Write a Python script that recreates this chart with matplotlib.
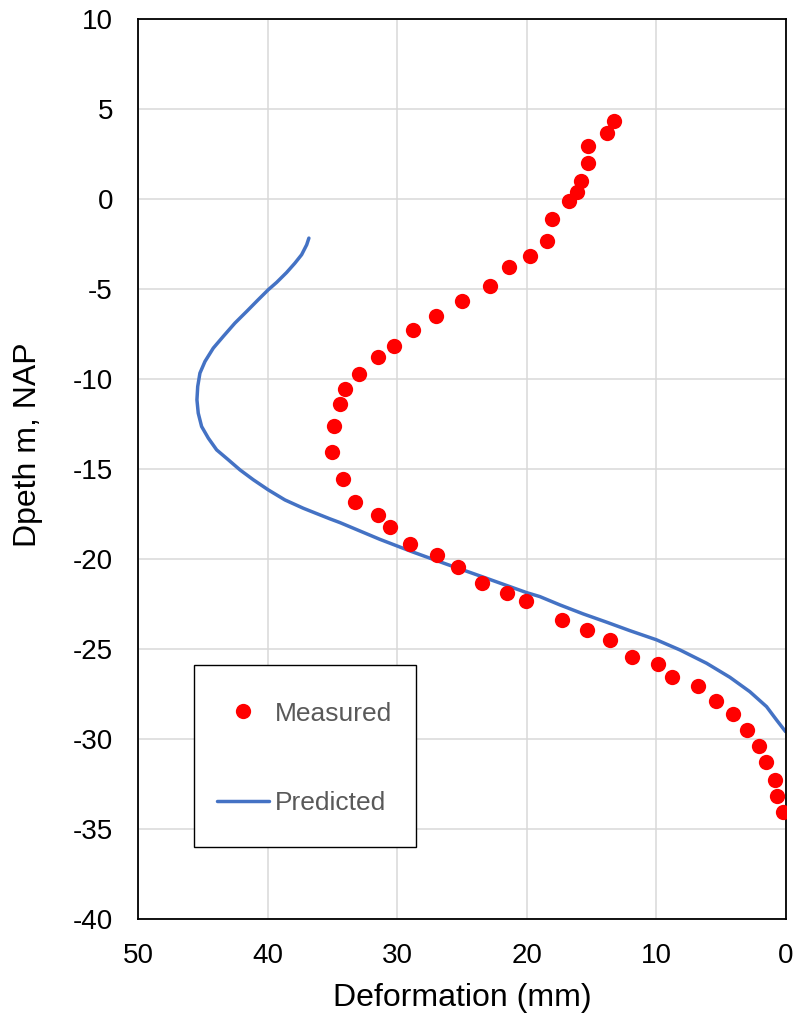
import matplotlib
matplotlib.use("Agg")
import matplotlib.pyplot as plt
from matplotlib.patches import Rectangle

plt.rcParams["font.family"] = ["Liberation Sans", "DejaVu Sans"]

# Measured inclinometer profile: deformation (mm) vs depth (m NAP)
measured_deformation = [
    13.25, 13.83, 15.25, 15.25, 15.8, 16.15, 16.7, 18.03, 18.46, 19.75,
    21.4, 22.84, 25.0, 26.98, 28.78, 30.27, 31.46, 32.92, 34.03, 34.41,
    34.9, 35.03, 34.18, 33.26, 31.46, 30.56, 28.99, 26.93, 25.31, 23.48,
    21.53, 20.06, 17.31, 15.35, 13.6, 11.88, 9.9, 8.82, 6.81, 5.38,
    4.11, 3.01, 2.11, 1.57, 0.85, 0.67, 0.23,
]
measured_depth = [
    4.31, 3.67, 2.96, 2.02, 1.02, 0.41, -0.11, -1.09, -2.33, -3.19,
    -3.75, -4.81, -5.68, -6.52, -7.26, -8.17, -8.78, -9.74, -10.56, -11.36,
    -12.61, -14.06, -15.54, -16.8, -17.54, -18.2, -19.17, -19.78, -20.44, -21.3,
    -21.89, -22.33, -23.37, -23.93, -24.5, -25.41, -25.82, -26.56, -27.02, -27.86,
    -28.59, -29.48, -30.35, -31.26, -32.28, -33.17, -34.04,
]

# Predicted profile
predicted_deformation = [
    36.81, 36.98, 37.37, 37.89, 38.53, 39.30, 39.95, 40.72, 41.61, 42.52,
    43.42, 44.19, 44.83, 45.22, 45.39, 45.45, 45.35, 45.09, 44.57, 43.93,
    43.03, 42.13, 41.10, 39.95, 38.66, 37.25, 35.96, 35.19, 34.41, 31.33,
    28.76, 26.18, 23.61, 20.0, 18.98, 17.44, 15.64, 13.83, 12.04, 9.98,
    8.18, 6.12, 4.32, 2.78, 1.49, 0.72, 0.02,
]
predicted_depth = [
    -2.17, -2.54, -3.09, -3.56, -4.08, -4.63, -5.04, -5.59, -6.24, -6.89,
    -7.63, -8.28, -9.02, -9.67, -10.41, -11.15, -11.89, -12.63, -13.28, -13.93,
    -14.48, -15.04, -15.59, -16.15, -16.71, -17.17, -17.54, -17.76, -17.97, -18.9,
    -19.61, -20.28, -20.93, -21.86, -22.08, -22.54, -23.04, -23.5, -23.97, -24.48,
    -25.04, -25.78, -26.56, -27.36, -28.19, -28.93, -29.58,
]

x_ticks = [50, 40, 30, 20, 10, 0]
y_ticks = [10, 5, 0, -5, -10, -15, -20, -25, -30, -35, -40]

W, H = 793, 1015
fig = plt.figure(figsize=(W / 100, H / 100), dpi=100)
ax = fig.add_axes([0.174, 0.0943, 0.817, 0.887])

ax.plot(measured_deformation, measured_depth, linestyle="none", marker="o",
        markersize=11, color="#FF0000", markeredgewidth=0, label="Measured", zorder=3)
ax.plot(predicted_deformation, predicted_depth, color="#4472C4", linewidth=2.5,
        solid_capstyle="round", solid_joinstyle="round", label="Predicted", zorder=2)

ax.set_xlim(50, 0)
ax.set_ylim(-40, 10)
ax.set_xticks(x_ticks)
ax.set_yticks(y_ticks)
ax.set_xticklabels([str(v) for v in x_ticks])
ax.set_yticklabels([str(v) for v in y_ticks])
ax.tick_params(axis="both", length=0, labelsize=20, colors="black")
ax.tick_params(axis="y", pad=18)
ax.tick_params(axis="x", pad=17)

ax.grid(True, color="#D9D9D9", linewidth=1.1)
ax.set_axisbelow(True)
for spine in ax.spines.values():
    spine.set_color("black")
    spine.set_linewidth(1.3)

ax.set_xlabel("Deformation (mm)", fontsize=23, labelpad=10)
ax.set_ylabel("Dpeth m, NAP", fontsize=23)
ax.yaxis.set_label_coords(-0.1466, 0.527)

# Legend box drawn as its own frame; entries placed inside it
box = Rectangle((194 / W, 1 - 847 / H), 222 / W, 182 / H, transform=fig.transFigure,
                facecolor="white", edgecolor="black", linewidth=1.0, zorder=4,
                clip_on=False)
ax.add_patch(box)
leg = ax.legend(loc="center left", bbox_to_anchor=(216.7 / W, 1 - 758.5 / H),
                bbox_transform=fig.transFigure, borderaxespad=0, borderpad=0,
                fontsize=19, numpoints=1, handlelength=2.0, handleheight=0.7,
                handletextpad=0.2, labelspacing=2.5, frameon=False)
leg.set_zorder(5)
for t in leg.get_texts():
    t.set_color("#595959")

fig.savefig("out.png", dpi=100)
